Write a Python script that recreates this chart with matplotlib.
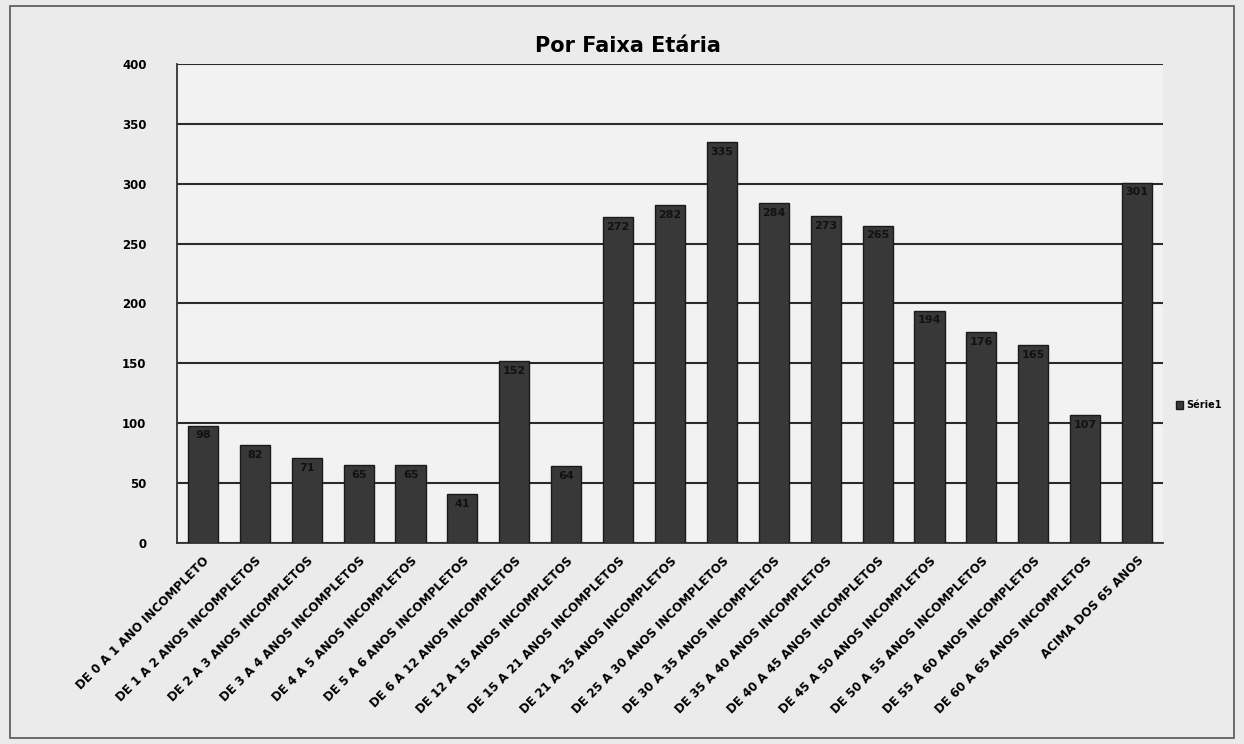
import matplotlib.pyplot as plt
from matplotlib.patches import Rectangle
import numpy as np

categorias = [
    'DE 0 A 1 ANO INCOMPLETO',
    'DE 1 A 2 ANOS INCOMPLETOS',
    'DE 2 A 3 ANOS INCOMPLETOS',
    'DE 3 A 4 ANOS INCOMPLETOS',
    'DE 4 A 5 ANOS INCOMPLETOS',
    'DE 5 A 6 ANOS INCOMPLETOS',
    'DE 6 A 12 ANOS INCOMPLETOS',
    'DE 12 A 15 ANOS INCOMPLETOS',
    'DE 15 A 21 ANOS INCOMPLETOS',
    'DE 21 A 25 ANOS INCOMPLETOS',
    'DE 25 A 30 ANOS INCOMPLETOS',
    'DE 30 A 35 ANOS INCOMPLETOS',
    'DE 35 A 40 ANOS INCOMPLETOS',
    'DE 40 A 45 ANOS INCOMPLETOS',
    'DE 45 A 50 ANOS INCOMPLETOS',
    'DE 50 A 55 ANOS INCOMPLETOS',
    'DE 55 A 60 ANOS INCOMPLETOS',
    'DE 60 A 65 ANOS INCOMPLETOS',
    'ACIMA DOS 65 ANOS',
]
valores = [98, 82, 71, 65, 65, 41, 152, 64, 272, 282, 335, 284, 273, 265,
           194, 176, 165, 107, 301]
yticks = [0, 50, 100, 150, 200, 250, 300, 350, 400]

fundo = '#ebebeb'
cor_barra = '#383838'

fig = plt.figure(figsize=(12.44, 7.44), dpi=100, facecolor=fundo)
ax = fig.add_axes([0.1423, 0.2702, 0.7926, 0.6438])
ax.set_facecolor('#f2f2f2')

# moldura externa do gráfico
fig.patches.append(Rectangle((0.008, 0.008), 0.984, 0.984, transform=fig.transFigure,
                             fill=False, edgecolor='#555555', linewidth=1.2))

x = np.arange(len(categorias))
barras = ax.bar(x, valores, width=0.58, color=cor_barra, edgecolor='#1a1a1a',
                linewidth=1, zorder=3, label='Série1')

for b, v in zip(barras, valores):
    ax.text(b.get_x() + b.get_width() / 2, v - 4, str(v), ha='center', va='top',
            fontsize=8, fontweight='bold', color='#111111', zorder=4)

ax.set_ylim(0, 400)
ax.set_xlim(-0.5, len(categorias) - 0.5)
ax.set_yticks(yticks)
ax.set_yticklabels([str(t) for t in yticks], fontsize=8.5, fontweight='bold')
ax.yaxis.grid(True, color='#2a2a2a', linewidth=1.5, zorder=1)
ax.set_axisbelow(True)
ax.tick_params(axis='y', length=0, pad=22)
ax.tick_params(axis='x', length=0, pad=8)

ax.set_xticks(x)
ax.set_xticklabels(categorias, rotation=45, ha='right', rotation_mode='anchor',
                   fontsize=8.6, fontweight='bold')

for s in ['top', 'right']:
    ax.spines[s].set_visible(False)
ax.spines['left'].set_color('#333333')
ax.spines['bottom'].set_color('#333333')
ax.spines['left'].set_linewidth(1.3)
ax.spines['bottom'].set_linewidth(1.3)

fig.text(0.505, 0.938, 'Por Faixa Etária', ha='center', va='center',
         fontsize=15, fontweight='bold')

fig.legend(handles=[barras], labels=['Série1'], loc='center left',
           bbox_to_anchor=(0.938, 0.455), frameon=False,
           prop={'weight': 'bold', 'size': 7}, handlelength=0.8, handleheight=0.8,
           handletextpad=0.3)

fig.savefig('out.png', dpi=100, facecolor=fundo)
